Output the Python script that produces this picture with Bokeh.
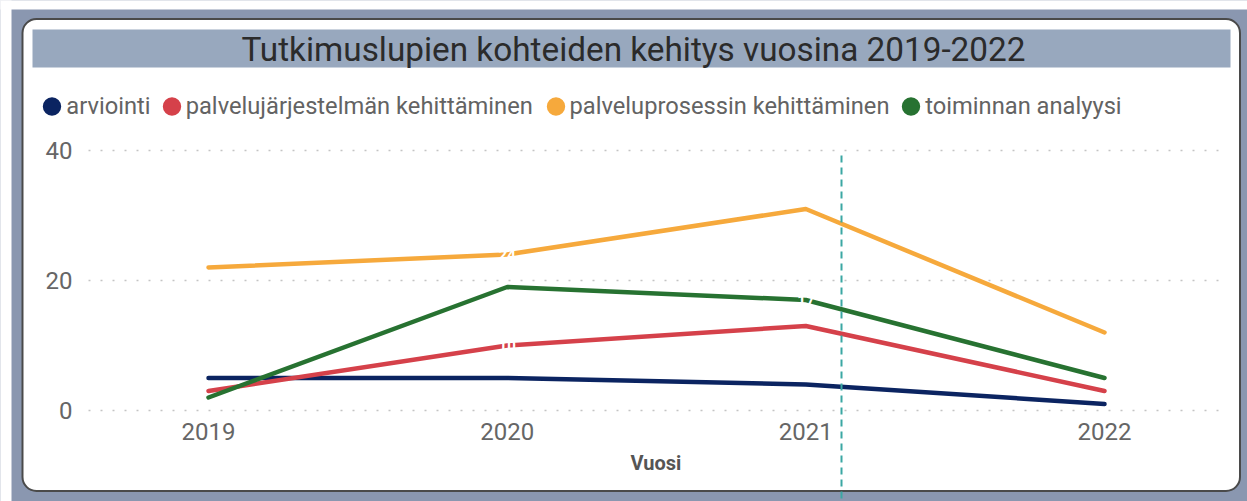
from bokeh.plotting import figure
from bokeh.models import Range1d, FixedTicker, BoxAnnotation, Label, Legend, LegendItem, Arrow
from bokeh.core.properties import value
from bokeh.embed import file_html
from bokeh.resources import INLINE

# ---------------- data ----------------
years = [2019, 2020, 2021, 2022]
arviointi = [5, 5, 4, 1]
palvelujarjestelma = [3, 10, 13, 3]
palveluprosessi = [22, 24, 31, 12]
toiminnan_analyysi = [2, 19, 17, 5]
series_names = ["arviointi", "palvelujärjestelmän kehittäminen",
                "palveluprosessin kehittäminen", "toiminnan analyysi"]
series_colors = ["#0B2461", "#D5414A", "#F6A93C", "#277231"]
y_ticks = [0, 20, 40]
title_text = "Tutkimuslupien kohteiden kehitys vuosina 2019-2022"
x_label = "Vuosi"
# (white, mostly hidden) data labels visible in the reference
label_x = [2020, 2020, 2021]
label_y = [palveluprosessi[1], palvelujarjestelma[1], toiminnan_analyysi[2]]

# ---------------- layout (canvas pixels) ----------------
W, H = 1247, 501
FR_L, FR_R, FR_B = 88, 1223, 418   # plotting area edges
X0_PX, X_STEP = 208, 298.667       # x of first year, px per year
Y0_PX, Y_STEP = 410, 6.5           # y of value 0, px per unit
LEGEND_DOT_X = [51.8, 171.2, 555.0, 910.8]
LEGEND_Y = 105.8


def dx(px):
    return years[0] + (px - X0_PX) / X_STEP


def dy(py):
    return (Y0_PX - py) / Y_STEP


p = figure(width=W, height=H, output_backend="svg", toolbar_location=None,
           x_range=Range1d(dx(0), dx(W)), y_range=Range1d(dy(H), dy(0)),
           min_border=0, min_border_left=0, min_border_right=0,
           min_border_top=0, min_border_bottom=0)
p.outline_line_color = None
p.background_fill_color = "white"
p.border_fill_color = "white"

# grid (bounded dotted lines at the y ticks)
p.xgrid.visible = False
p.ygrid.visible = False
p.segment(x0=[dx(FR_L)] * len(y_ticks), x1=[dx(FR_R)] * len(y_ticks), y0=y_ticks, y1=y_ticks,
          line_color="#C4C4C4", line_dash="2 10", line_width=1.5)

# axes (placed inside the canvas at fixed data locations)
for ax in (p.xaxis[0], p.yaxis[0]):
    ax.axis_line_color = None
    ax.major_tick_line_color = None
    ax.minor_tick_line_color = None
    ax.major_tick_out = 0
    ax.major_tick_in = 0
    ax.major_label_text_font = "Roboto"
    ax.major_label_text_font_size = "24px"
    ax.major_label_text_color = "#666666"
p.xaxis.ticker = FixedTicker(ticks=years)
p.yaxis.ticker = FixedTicker(ticks=y_ticks)
p.xaxis.fixed_location = dy(FR_B)
p.yaxis.fixed_location = dx(FR_L)
p.xaxis.bounds = (dx(FR_L), dx(FR_R))
p.xaxis.major_label_standoff = 4
p.yaxis.major_label_standoff = 16
p.xaxis.axis_label = x_label
p.xaxis.axis_label_text_font = "Roboto"
p.xaxis.axis_label_text_font_size = "20px"
p.xaxis.axis_label_text_font_style = "bold"
p.xaxis.axis_label_text_color = "#555555"
p.xaxis.axis_label_standoff = 8

# lines + legend markers
all_series = [arviointi, palvelujarjestelma, palveluprosessi, toiminnan_analyysi]
for name, vals, col, lx in zip(series_names, all_series, series_colors, LEGEND_DOT_X):
    p.line(years, vals, line_color=col, line_width=4.5, line_cap="round", line_join="round")
    dot = p.ellipse(years, vals, width=1, height=1, width_units="screen", height_units="screen",
                    fill_color=col, line_color=None)
    leg = Legend(items=[LegendItem(label=name, renderers=[dot])],
                 location=(lx - 11.5, H - (LEGEND_Y + 20)), orientation="horizontal",
                 glyph_width=23, glyph_height=40, label_height=40, label_standoff=3,
                 padding=0, margin=0, label_text_font="Roboto", label_text_font_size="23.7px",
                 label_text_color="#636363", background_fill_alpha=0, border_line_alpha=0)
    p.add_layout(leg)

# white data labels (only visible where they cross the lines)
p.text(x=label_x, y=label_y, text=[str(v) for v in label_y], text_color="white",
       text_font=value("Roboto"), text_font_size="15px", text_font_style="bold",
       text_align="center", text_baseline="middle")

# title bar and title
p.add_layout(BoxAnnotation(left=dx(32), right=dx(1230), top=dy(29), bottom=dy(67),
                           fill_color="#98A8BE", fill_alpha=1, line_alpha=0))
p.add_layout(Label(x=dx(633), y=dy(48.5), text=title_text, text_align="center",
                   text_baseline="middle", text_font="Roboto", text_font_size="33.3px",
                   text_color="#2B2B2B"))

# card frame
CL, CT, CR, CB, CRAD = 22, 18.5, 1239.5, 490.5, 14
p.add_layout(BoxAnnotation(left=dx(CL - 40), right=dx(CR + 40), top=dy(CT - 40), bottom=dy(CB + 40),
                           border_radius=CRAD + 40, fill_alpha=0, line_color="#8A97B0",
                           line_width=80, line_alpha=1))
p.add_layout(BoxAnnotation(left=dx(-5), right=dx(11), top=dy(-5), bottom=dy(H + 5),
                           fill_color="white", fill_alpha=1, line_alpha=0))
p.add_layout(BoxAnnotation(left=dx(-5), right=dx(W + 5), top=dy(-5), bottom=dy(9),
                           fill_color="white", fill_alpha=1, line_alpha=0))
p.add_layout(BoxAnnotation(left=dx(CL), right=dx(CR), top=dy(CT), bottom=dy(CB),
                           border_radius=CRAD, fill_alpha=0, line_color="#4A4A4A",
                           line_width=2, line_alpha=1))

# hover cursor line
p.add_layout(Arrow(end=None, x_start=dx(841), y_start=dy(155), x_end=dx(841), y_end=dy(H + 5),
                   line_color="#3BA7A3", line_width=2, line_dash="7 5"))

open("out.html", "w").write(file_html(p, INLINE))
